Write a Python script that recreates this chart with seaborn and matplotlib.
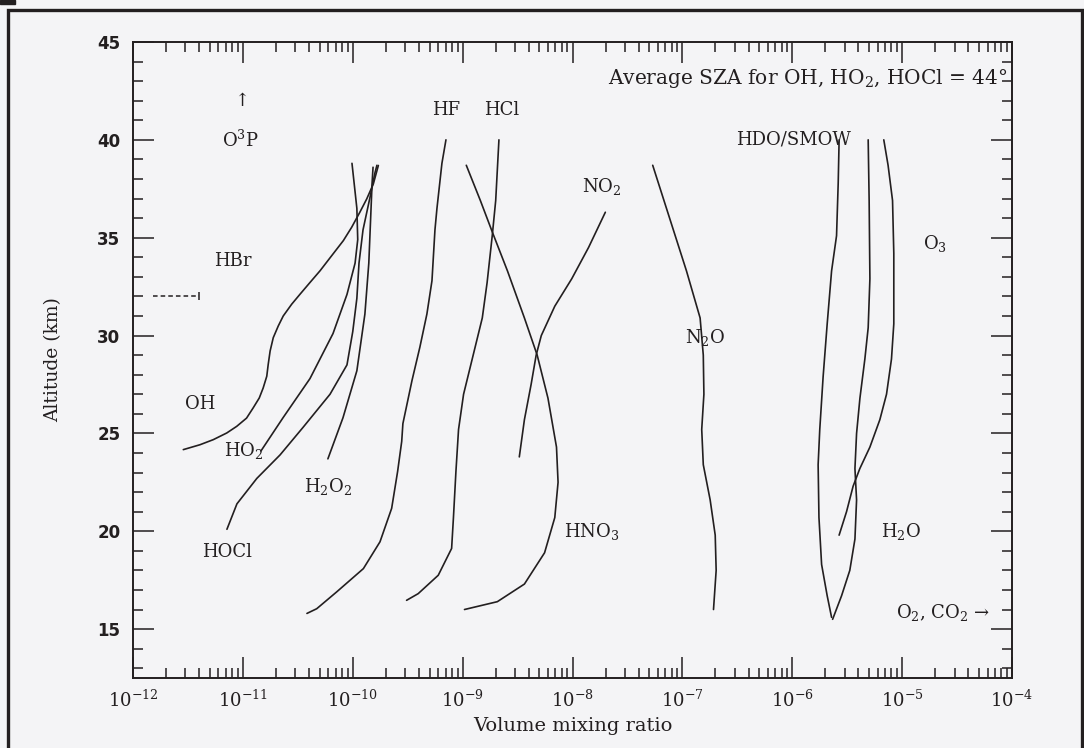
import matplotlib
matplotlib.use("Agg")
import matplotlib.pyplot as plt
import matplotlib.ticker as mticker
from matplotlib.patches import Rectangle
import pandas as pd
import seaborn as sns

# profiles: altitude (km) and volume mixing ratio
oh_alt = [24.17, 24.42, 24.68, 25.02, 25.36, 25.78, 26.3, 26.81, 27.32, 27.92, 28.52, 29.21, 29.89,
          30.49, 31.0, 31.6, 32.11, 32.71, 33.31, 34.08, 34.85, 35.53, 36.3, 36.98, 37.75, 38.69]
oh_vmr = [2.87e-12, 4.07e-12, 5.38e-12, 7.13e-12, 8.79e-12, 1.08e-11, 1.24e-11, 1.41e-11, 1.53e-11,
          1.65e-11, 1.70e-11, 1.77e-11, 1.89e-11, 2.10e-11, 2.33e-11, 2.78e-11, 3.31e-11, 4.08e-11,
          5.04e-11, 6.43e-11, 8.21e-11, 9.77e-11, 1.16e-10, 1.34e-10, 1.54e-10, 1.71e-10]

ho2_alt = [24.1, 25.8, 27.8, 30.1, 32.1, 33.7, 34.9, 36.5, 38.8]
ho2_vmr = [1.46e-11, 2.32e-11, 4.08e-11, 6.61e-11, 8.86e-11, 1.05e-10, 1.11e-10, 1.09e-10, 9.84e-11]

hocl_alt = [20.1, 21.4, 22.7, 23.9, 25.3, 27.0, 28.5, 30.2, 31.9, 33.7, 35.4, 37.1, 38.3, 38.7]
hocl_vmr = [7.16e-12, 8.83e-12, 1.34e-11, 2.18e-11, 3.52e-11, 6.21e-11, 8.86e-11, 1.00e-10,
            1.09e-10, 1.14e-10, 1.24e-10, 1.44e-10, 1.59e-10, 1.66e-10]

h2o2_alt = [23.7, 25.8, 28.2, 31.1, 33.7, 36.2, 37.8, 38.6]
h2o2_vmr = [5.94e-11, 8.15e-11, 1.09e-10, 1.29e-10, 1.40e-10, 1.46e-10, 1.50e-10, 1.53e-10]

hf_alt = [40.0, 38.8, 36.5, 35.4, 32.8, 31.1, 29.4, 27.7, 25.5, 24.59, 23.05, 21.17, 19.46,
          18.09, 16.9, 16.04, 15.8]
hf_vmr = [7.05e-10, 6.48e-10, 5.84e-10, 5.6e-10, 5.26e-10, 4.73e-10, 4.08e-10, 3.46e-10,
          2.86e-10, 2.79e-10, 2.56e-10, 2.26e-10, 1.77e-10, 1.25e-10, 7.14e-11, 4.70e-11, 3.83e-11]

hcl_alt = [40.0, 36.9, 35.1, 32.7, 30.9, 29.1, 27.0, 25.2, 23.05, 20.7, 19.12, 17.75, 16.81, 16.47]
hcl_vmr = [2.14e-9, 2.0e-9, 1.86e-9, 1.67e-9, 1.51e-9, 1.26e-9, 1.02e-9, 9.18e-10,
           8.69e-10, 8.25e-10, 7.94e-10, 6.0e-10, 3.94e-10, 3.09e-10]

hno3_alt = [38.7, 36.9, 35.3, 33.3, 30.9, 29.0, 26.8, 24.3, 22.5, 20.7, 18.9, 17.3, 16.4, 16.0]
hno3_vmr = [1.08e-9, 1.45e-9, 1.86e-9, 2.56e-9, 3.65e-9, 4.77e-9, 5.98e-9, 7.15e-9,
            7.39e-9, 6.90e-9, 5.57e-9, 3.65e-9, 2.07e-9, 1.04e-9]

no2_alt = [36.3, 34.5, 32.9, 31.5, 30.0, 29.0, 27.5, 25.7, 23.8]
no2_vmr = [1.99e-8, 1.40e-8, 9.84e-9, 6.90e-9, 5.20e-9, 4.67e-9, 4.20e-9, 3.65e-9, 3.28e-9]

n2o_alt = [38.7, 36.0, 33.3, 30.9, 29.0, 27.0, 25.2, 23.4, 21.6, 19.8, 18.0, 16.0]
n2o_vmr = [5.37e-8, 7.65e-8, 1.09e-7, 1.45e-7, 1.55e-7, 1.57e-7, 1.50e-7, 1.55e-7,
           1.79e-7, 1.99e-7, 2.03e-7, 1.92e-7]

hdo_alt = [40.0, 37.8, 35.1, 33.3, 30.6, 27.9, 25.2, 23.4, 20.7, 18.3, 16.7, 15.6]
hdo_vmr = [2.67e-6, 2.62e-6, 2.53e-6, 2.28e-6, 2.08e-6, 1.91e-6, 1.78e-6, 1.72e-6,
           1.75e-6, 1.85e-6, 2.08e-6, 2.28e-6]

h2o_alt = [40.0, 36.9, 32.9, 30.4, 28.8, 26.8, 25.0, 23.2, 21.6, 19.6, 18.0, 16.7, 15.5]
h2o_vmr = [4.91e-6, 5.01e-6, 5.09e-6, 4.91e-6, 4.58e-6, 4.13e-6, 3.85e-6, 3.72e-6,
           3.85e-6, 3.72e-6, 3.34e-6, 2.81e-6, 2.33e-6]

o3_alt = [40.0, 38.7, 36.9, 34.2, 30.6, 28.8, 27.0, 25.7, 24.3, 23.2, 22.3, 21.0, 19.8]
o3_vmr = [6.81e-6, 7.45e-6, 8.18e-6, 8.40e-6, 8.40e-6, 8.0e-6, 7.21e-6, 6.27e-6,
          5.09e-6, 4.12e-6, 3.58e-6, 3.12e-6, 2.67e-6]

# HBr upper limit at 32 km
hbr_alt = [32.0, 32.0]
hbr_vmr = [1.52e-12, 4.0e-12]

x_ticks = [1e-12, 1e-11, 1e-10, 1e-9, 1e-8, 1e-7, 1e-6, 1e-5, 1e-4]
y_ticks = [15, 20, 25, 30, 35, 40, 45]

profiles = {
    "OH": (oh_vmr, oh_alt), "HO2": (ho2_vmr, ho2_alt), "HOCl": (hocl_vmr, hocl_alt),
    "H2O2": (h2o2_vmr, h2o2_alt), "HF": (hf_vmr, hf_alt), "HCl": (hcl_vmr, hcl_alt),
    "HNO3": (hno3_vmr, hno3_alt), "NO2": (no2_vmr, no2_alt), "N2O": (n2o_vmr, n2o_alt),
    "HDO": (hdo_vmr, hdo_alt), "H2O": (h2o_vmr, h2o_alt), "O3": (o3_vmr, o3_alt),
}
rows = []
for name, (vmr, alt) in profiles.items():
    for v, a in zip(vmr, alt):
        rows.append({"species": name, "vmr": v, "alt": a})
df = pd.DataFrame(rows)

sns.set_theme(style="ticks")
plt.rcParams["font.family"] = ["DejaVu Serif"]
plt.rcParams["mathtext.fontset"] = "dejavuserif"

ink = "#231f20"
bg = "#f4f4f6"

fig = plt.figure(figsize=(10.84, 7.48), dpi=100, facecolor=bg)
ax = fig.add_axes([133 / 1084, 1 - 678 / 748, 879 / 1084, 636 / 748])
ax.set_facecolor(bg)

sns.lineplot(data=df, x="vmr", y="alt", units="species", estimator=None, sort=False,
             color=ink, lw=1.2, ax=ax)
sns.lineplot(x=hbr_vmr, y=hbr_alt, sort=False, estimator=None, color=ink, lw=1.1,
             linestyle=(0, (3, 2)), ax=ax)
ax.plot(hbr_vmr[-1:], hbr_alt[-1:], marker="|", ms=6, mew=1.1, color=ink)

ax.set_xscale("log")
ax.set_xlim(1e-12, 1e-4)
ax.set_ylim(12.5, 45)
ax.set_xticks(x_ticks)
ax.xaxis.set_minor_locator(mticker.LogLocator(base=10, subs=range(2, 10), numticks=20))
ax.xaxis.set_minor_formatter(mticker.NullFormatter())
ax.set_yticks(y_ticks)
ax.yaxis.set_minor_locator(mticker.MultipleLocator(1))
ax.set_yticklabels([str(t) for t in y_ticks], family="DejaVu Sans", fontweight="bold", fontsize=12)
for lab in ax.get_xticklabels():
    lab.set_fontsize(13)

ax.tick_params(which="both", direction="in", top=True, right=True, colors=ink, width=1.1)
ax.tick_params(which="major", length=15)
ax.tick_params(which="minor", length=7)
ax.tick_params(axis="y", pad=9)
ax.tick_params(axis="x", pad=8)
for sp in ax.spines.values():
    sp.set_linewidth(1.4)
    sp.set_color(ink)

ax.set_xlabel("Volume mixing ratio", fontsize=14, color=ink)
ax.set_ylabel("Altitude (km)", fontsize=13.5, color=ink)
ax.xaxis.set_label_coords(0.5, -0.061)
ax.yaxis.set_label_coords(-0.081, 0.5)

fs = 13
txt = dict(fontsize=fs, color=ink, ha="center", va="center")
ax.text(9.16e-5, 43.15, "Average SZA for OH, HO$_2$, HOCl = 44°", fontsize=14.5, color=ink,
        ha="right", va="center")
ax.text(9.75e-12, 42.0, "↑", **txt)
ax.text(9.4e-12, 40.0, "O$^3$P", **txt)
ax.text(8.18e-12, 33.8, "HBr", **txt)
ax.text(4.07e-12, 26.5, "OH", **txt)
ax.text(1.01e-11, 24.15, "HO$_2$", **txt)
ax.text(5.98e-11, 22.3, "H$_2$O$_2$", **txt)
ax.text(7.13e-12, 18.95, "HOCl", **txt)
ax.text(7.14e-10, 41.5, "HF", **txt)
ax.text(2.26e-9, 41.5, "HCl", **txt)
ax.text(1.84e-8, 37.6, "NO$_2$", **txt)
ax.text(1.02e-6, 40.0, "HDO/SMOW", **txt)
ax.text(1.98e-5, 34.7, "O$_3$", **txt)
ax.text(1.60e-7, 29.9, "N$_2$O", **txt)
ax.text(1.49e-8, 20.0, "HNO$_3$", **txt)
ax.text(9.86e-6, 20.0, "H$_2$O", **txt)
ax.text(6.28e-5, 15.87, "O$_2$, CO$_2$ →", fontsize=fs, color=ink, ha="right", va="center")

# outer frame of the page
fig.patches.append(Rectangle((8 / 1084, -0.01), 1074 / 1084, 1 - 10 / 748 + 0.01,
                             transform=fig.transFigure, fill=False, lw=2.4, edgecolor=ink))
fig.patches.append(Rectangle((0, 1 - 4 / 748), 15 / 1084, 4 / 748,
                             transform=fig.transFigure, color=ink))

plt.savefig("out.png", dpi=100, facecolor=bg)
plt.close()
